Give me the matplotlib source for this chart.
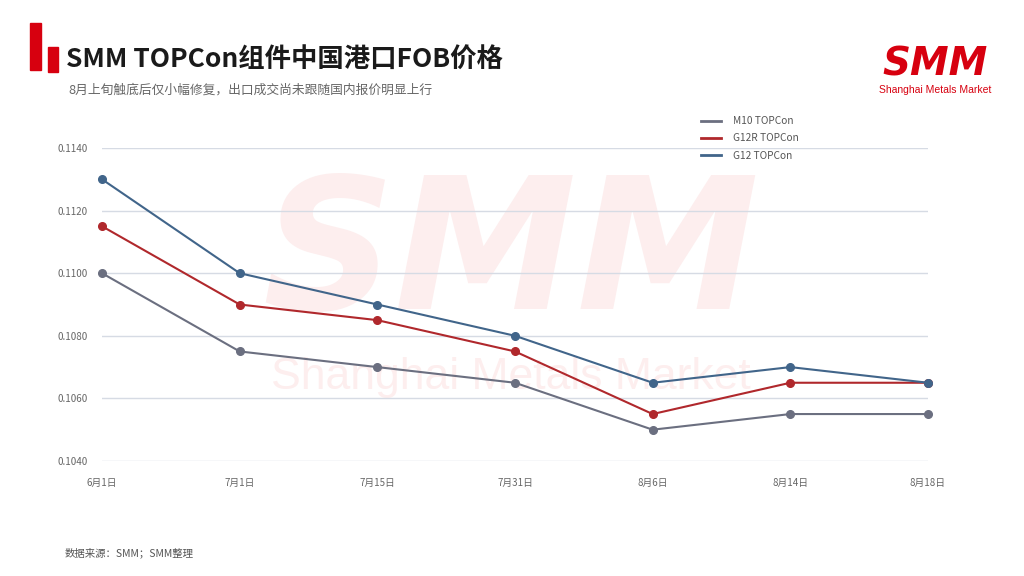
import matplotlib
matplotlib.use("Agg")
import matplotlib.pyplot as plt
from matplotlib.patches import Rectangle
from matplotlib.lines import Line2D

plt.rcParams['font.family'] = ['Noto Sans CJK SC', 'DejaVu Sans']

dates = ["6月1日", "7月1日", "7月15日", "7月31日", "8月6日", "8月14日", "8月18日"]
m10 = [0.1100, 0.1075, 0.1070, 0.1065, 0.1050, 0.1055, 0.1055]
g12r = [0.1115, 0.1090, 0.1085, 0.1075, 0.1055, 0.1065, 0.1065]
g12 = [0.1130, 0.1100, 0.1090, 0.1080, 0.1065, 0.1070, 0.1065]
series_names = ["M10 TOPCon", "G12R TOPCon", "G12 TOPCon"]
yticks = [0.1040, 0.1060, 0.1080, 0.1100, 0.1120, 0.1140]

title = "SMM TOPCon组件中国港口FOB价格"
subtitle = "8月上旬触底后仅小幅修复，出口成交尚未跟随国内报价明显上行"
source = "数据来源：SMM；SMM整理"

W, H = 1024, 576
fig = plt.figure(figsize=(W / 100, H / 100), dpi=100)
fig.patch.set_facecolor("white")

def fx(px):
    return px / W

def fy(py):
    return 1 - py / H

# watermark (behind axes)
fig.text(fx(511), fy(258), "SMM", fontsize=132, fontweight="heavy", fontstyle="italic",
         color="#fdeeee", ha="center", va="center", family="DejaVu Sans", zorder=-5)
fig.text(fx(511), fy(378), "Shanghai Metals Market", fontsize=32, color="#fdeeee",
         ha="center", va="center", family="Liberation Sans", zorder=-5)

ax = fig.add_axes([fx(102), fy(461), fx(928) - fx(102), fy(148) - fy(461)])
ax.set_facecolor("none")
ax.set_zorder(1)
x = list(range(len(dates)))
colors = ["#6b6f80", "#b0282c", "#41658a"]
for vals, c, name in zip([m10, g12r, g12], colors, series_names):
    ax.plot(x, vals, color=c, lw=1.5, marker="o", ms=5.5, label=name, zorder=3,
            clip_on=False)

ax.set_xlim(0, len(dates) - 1)
ax.set_ylim(0.1040, 0.1140)
ax.set_yticks(yticks)
ax.set_yticklabels([f"{v:.4f}" for v in yticks])
ax.set_xticks(x)
ax.set_xticklabels(dates)
ax.grid(axis="y", color="#d6dbe4", lw=1)
ax.set_axisbelow(True)
for s in ax.spines.values():
    s.set_visible(False)
ax.tick_params(axis="both", length=0, labelsize=7, colors="#666666")
ax.tick_params(axis="y", pad=10)
ax.tick_params(axis="x", pad=12)

handles = [Line2D([0], [0], color=c, lw=2) for c in colors]
leg = fig.legend(handles, series_names, loc="upper left", bbox_to_anchor=(fx(692), fy(107)),
                 frameon=False, fontsize=7.3, labelcolor="#555555", handlelength=2.0,
                 handletextpad=1.1, labelspacing=0.72)
leg.set_zorder(5)

# header
fig.add_artist(Rectangle((fx(30), fy(70)), fx(11), fy(23) - fy(70), color="#d7000f",
                         transform=fig.transFigure))
fig.add_artist(Rectangle((fx(48), fy(72)), fx(10), fy(47) - fy(72), color="#d7000f",
                         transform=fig.transFigure))
fig.text(fx(66), fy(60), title, fontsize=19, fontweight="bold", color="#1a1a1a",
         ha="left", va="center")
fig.text(fx(68), fy(90), subtitle, fontsize=9.2, color="#666666", ha="left", va="center")
fig.text(fx(65), fy(553), source, fontsize=7.5, color="#555555", ha="left", va="center")

# logo
fig.text(fx(935), fy(64), "SMM", fontsize=28, fontweight="heavy", fontstyle="italic",
         color="#d7000f", ha="center", va="center", family="DejaVu Sans")
fig.text(fx(935), fy(90), "Shanghai Metals Market", fontsize=7.5, color="#d7000f",
         ha="center", va="center", family="Liberation Sans")

fig.savefig("out.png", dpi=100)
